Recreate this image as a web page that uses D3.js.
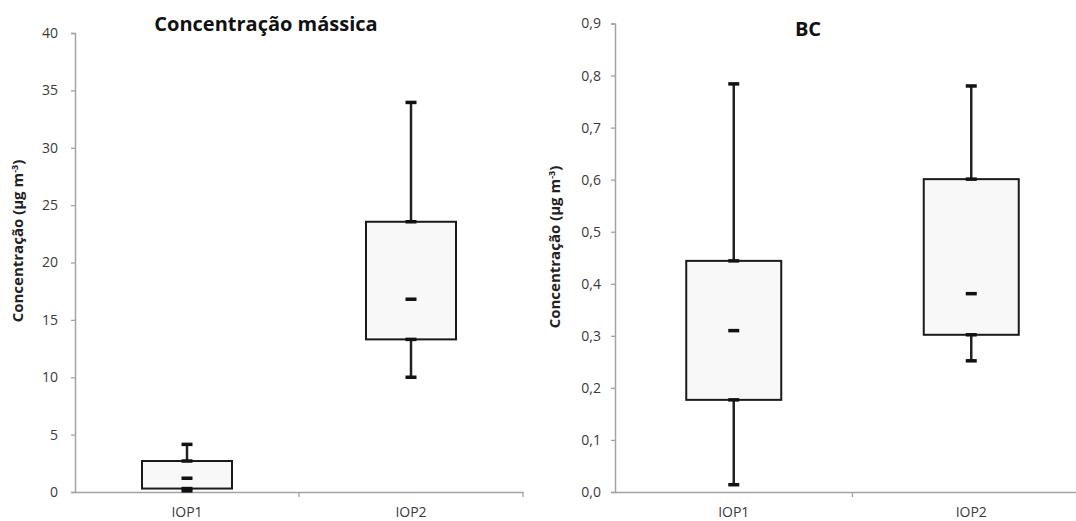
<!DOCTYPE html>
<html>
<head>
<meta charset="utf-8">
<script src="https://cdn.jsdelivr.net/npm/d3@7"></script>
<style>
  html, body { margin: 0; padding: 0; background: #fff; }
  svg { display: block; }
  text { font-family: "Open Sans", "Liberation Sans", sans-serif; }
</style>
</head>
<body>
<svg id="chart" width="1076" height="521"></svg>
<script>
// Campaign periods
const categories = ["IOP1", "IOP2"];

// Mass concentration (µg m-3): min, Q1, median, Q3, max
const massMin    = [0.1, 10.0];
const massQ1     = [0.3, 13.3];
const massMedian = [1.2, 16.8];
const massQ3     = [2.7, 23.55];
const massMax    = [4.15, 33.95];
const massTicks  = [0, 5, 10, 15, 20, 25, 30, 35, 40];

// Black carbon (µg m-3): min, Q1, median, Q3, max
const bcMin    = [0.014, 0.252];
const bcQ1     = [0.177, 0.302];
const bcMedian = [0.310, 0.381];
const bcQ3     = [0.444, 0.601];
const bcMax    = [0.784, 0.780];
const bcTicks  = [0, 0.1, 0.2, 0.3, 0.4, 0.5, 0.6, 0.7, 0.8, 0.9];

const svg = d3.select("#chart");
const fmtComma = d => d3.format(".1f")(d).replace(".", ",");
const axisGrey = "#a3a3a3";

function boxPanel(cfg) {
  const g = svg.append("g");
  const x = d3.scaleBand().domain(categories).range([cfg.x0, cfg.x1]);
  const y = d3.scaleLinear().domain(cfg.domain).range([cfg.y0, cfg.y1]);

  // y axis
  const yAxis = g.append("g")
    .attr("transform", `translate(${cfg.x0},0)`)
    .call(d3.axisLeft(y).tickValues(cfg.ticks).tickFormat(cfg.fmt)
      .tickSize(4).tickPadding(cfg.tickPad));
  yAxis.select(".domain").attr("stroke", axisGrey).attr("stroke-width", 1.5);
  yAxis.selectAll(".tick line").attr("stroke", axisGrey).attr("stroke-width", 1.3);
  yAxis.selectAll(".tick text").attr("fill", "#3a3a3a").style("font-size", "14px");

  // x axis
  const xAxis = g.append("g")
    .attr("transform", `translate(0,${cfg.y0})`)
    .call(d3.axisBottom(x).tickSize(0).tickPadding(15));
  xAxis.select(".domain").attr("stroke", axisGrey).attr("stroke-width", 1.5);
  xAxis.selectAll(".tick text").attr("fill", "#3a3a3a").style("font-size", "14px");
  // category boundary ticks
  g.selectAll(".bound").data(categories.slice(1).concat(["end"])).enter().append("line")
    .attr("x1", d => d === "end" ? cfg.x1 : x(d))
    .attr("x2", d => d === "end" ? cfg.x1 : x(d))
    .attr("y1", cfg.y0).attr("y2", cfg.y0 + 5)
    .attr("stroke", axisGrey).attr("stroke-width", 1.3);

  const bw = cfg.boxWidth;
  const capW = 11;
  const data = categories.map((c, i) => ({
    c, min: cfg.min[i], q1: cfg.q1[i], med: cfg.med[i], q3: cfg.q3[i], max: cfg.max[i]
  }));

  const item = g.selectAll(".item").data(data).enter().append("g")
    .attr("transform", d => `translate(${x(d.c) + x.bandwidth() / 2},0)`);

  // whiskers
  item.append("line")
    .attr("x1", 0).attr("x2", 0)
    .attr("y1", d => y(d.q3)).attr("y2", d => y(d.max))
    .attr("stroke", "#222").attr("stroke-width", 2.5);
  item.append("line")
    .attr("x1", 0).attr("x2", 0)
    .attr("y1", d => y(d.q1)).attr("y2", d => y(d.min))
    .attr("stroke", "#222").attr("stroke-width", 2.5);

  // box
  item.append("rect")
    .attr("x", -bw / 2).attr("width", bw)
    .attr("y", d => y(d.q3)).attr("height", d => y(d.q1) - y(d.q3))
    .attr("fill", "#f8f8f8").attr("stroke", "#1a1a1a").attr("stroke-width", 2);

  // caps at extremes and at box edges
  ["min", "max", "q1", "q3"].forEach(k => {
    item.append("line")
      .attr("x1", -capW / 2).attr("x2", capW / 2)
      .attr("y1", d => y(d[k])).attr("y2", d => y(d[k]))
      .attr("stroke", "#111").attr("stroke-width", 3.5);
  });

  // median dash
  item.append("line")
    .attr("x1", -5.5).attr("x2", 5.5)
    .attr("y1", d => y(d.med)).attr("y2", d => y(d.med))
    .attr("stroke", "#111").attr("stroke-width", 3.5);

  // title
  g.append("text")
    .attr("x", cfg.titleX).attr("y", cfg.titleY)
    .attr("text-anchor", "middle")
    .style("font-size", "20px").style("font-weight", "bold").attr("fill", "#111")
    .text(cfg.title);

  // y label
  const yl = g.append("text")
    .attr("transform", `translate(${cfg.labelX},${cfg.labelY}) rotate(-90)`)
    .attr("text-anchor", "middle")
    .style("font-size", "15px").style("font-weight", "bold").attr("fill", "#222");
  yl.append("tspan").text("Concentração (µg m");
  yl.append("tspan").attr("dy", -5).style("font-size", "9px").text("-3");
  yl.append("tspan").attr("dy", 5).text(")");
}

boxPanel({
  x0: 75, x1: 523, y0: 492, y1: 33, domain: [0, 40], ticks: massTicks,
  fmt: d3.format("d"), boxWidth: 90, tickPad: 13,
  min: massMin, q1: massQ1, med: massMedian, q3: massQ3, max: massMax,
  title: "Concentração mássica", titleX: 266, titleY: 31,
  labelX: 23, labelY: 241
});

boxPanel({
  x0: 615, x1: 1090, y0: 492, y1: 23.5, domain: [0, 0.9], ticks: bcTicks,
  fmt: fmtComma, boxWidth: 95, tickPad: 10,
  min: bcMin, q1: bcQ1, med: bcMedian, q3: bcQ3, max: bcMax,
  title: "BC", titleX: 808, titleY: 36,
  labelX: 560, labelY: 247
});
</script>
</body>
</html>
